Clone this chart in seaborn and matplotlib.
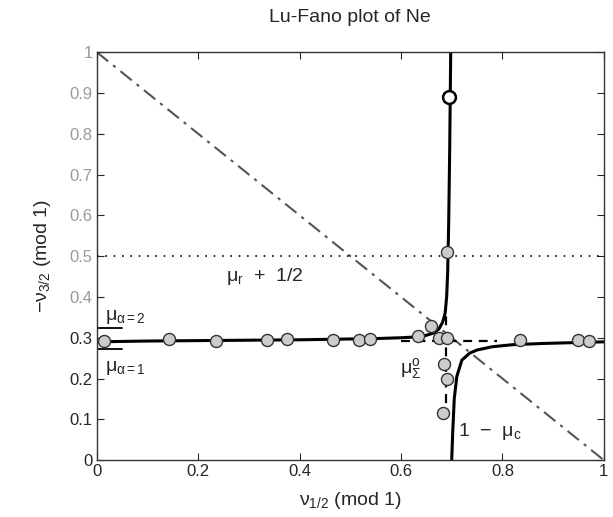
import matplotlib
matplotlib.use("Agg")
import matplotlib.pyplot as plt
import numpy as np
import pandas as pd
import seaborn as sns

# Lu-Fano curve, two branches
left_x = [0.0, 0.1, 0.2, 0.3, 0.4, 0.5, 0.55, 0.6, 0.63, 0.65, 0.665, 0.675,
          0.682, 0.687, 0.69, 0.692, 0.694, 0.696, 0.697, 0.698]
left_y = [0.290, 0.292, 0.293, 0.294, 0.295, 0.297, 0.298, 0.300, 0.302, 0.306,
          0.312, 0.322, 0.338, 0.36, 0.40, 0.46, 0.58, 0.76, 0.88, 1.0]
right_x = [0.700, 0.702, 0.705, 0.71, 0.72, 0.735, 0.75, 0.78, 0.82, 0.88, 0.94, 1.0]
right_y = [0.0, 0.07, 0.15, 0.205, 0.245, 0.262, 0.270, 0.278, 0.283, 0.286, 0.288, 0.290]

# dashed crossing lines near the avoided crossing
dash_h_x = [0.60, 0.79]
dash_h_y = [0.292, 0.292]
dash_v_x = [0.688, 0.688]
dash_v_y = [0.14, 0.37]

# experimental levels (grey circles)
exp_x = [0.015, 0.142, 0.235, 0.335, 0.375, 0.466, 0.517, 0.538, 0.633, 0.66,
         0.675, 0.69, 0.69, 0.685, 0.69, 0.683, 0.835, 0.95, 0.97]
exp_y = [0.293, 0.296, 0.292, 0.295, 0.297, 0.295, 0.295, 0.298, 0.305, 0.33,
         0.30, 0.30, 0.51, 0.235, 0.20, 0.115, 0.295, 0.295, 0.292]

# open circle
open_x = [0.695]
open_y = [0.89]

# diagonal and half line
diag_x = [0.0, 1.0]
diag_y = [1.0, 0.0]
half_x = [0.0, 1.0]
half_y = [0.5, 0.5]

xticks = [0, 0.2, 0.4, 0.6, 0.8, 1]
xticklabels = ["0", "0.2", "0.4", "0.6", "0.8", "1"]
yticks = [0, 0.1, 0.2, 0.3, 0.4, 0.5, 0.6, 0.7, 0.8, 0.9, 1]
yticklabels = ["0", "0.1", "0.2", "0.3", "0.4", "0.5", "0.6", "0.7", "0.8", "0.9", "1"]

sns.set_style("ticks")
plt.rcParams['font.family'] = ['Liberation Sans', 'DejaVu Sans']
plt.rcParams['mathtext.fontset'] = 'custom'
plt.rcParams['mathtext.rm'] = 'Liberation Sans'
plt.rcParams['mathtext.it'] = 'Liberation Sans'
plt.rcParams['mathtext.bf'] = 'Liberation Sans:bold'

fig = plt.figure(figsize=(6.13, 5.17), dpi=100)
ax = fig.add_axes([0.158, 0.110, 0.827, 0.789])

sns.lineplot(x=diag_x, y=diag_y, ax=ax, color="#555555", lw=1.5, sort=False, estimator=None)
ax.lines[-1].set_linestyle((0, (7, 3, 1.5, 3)))
sns.lineplot(x=half_x, y=half_y, ax=ax, color="black", lw=1.2, sort=False, estimator=None)
ax.lines[-1].set_linestyle((0, (1, 4)))

sns.lineplot(x=left_x, y=left_y, ax=ax, color="black", lw=2.2, sort=False, estimator=None)
sns.lineplot(x=right_x, y=right_y, ax=ax, color="black", lw=2.2, sort=False, estimator=None)

sns.lineplot(x=dash_h_x, y=dash_h_y, ax=ax, color="black", lw=1.6, sort=False, estimator=None)
ax.lines[-1].set_linestyle((0, (4, 3)))
sns.lineplot(x=dash_v_x, y=dash_v_y, ax=ax, color="black", lw=1.6, sort=False, estimator=None)
ax.lines[-1].set_linestyle((0, (4, 3)))

sns.scatterplot(x=exp_x, y=exp_y, ax=ax, s=75, color="#cccccc",
                edgecolor="#333333", linewidth=1.0, zorder=5)
sns.scatterplot(x=open_x, y=open_y, ax=ax, s=85, color="white",
                edgecolor="black", linewidth=1.8, zorder=5)

# short level markers at the left edge
ax.plot([0.002, 0.05], [0.324, 0.324], color="black", lw=1.3)
ax.plot([0.002, 0.05], [0.272, 0.272], color="black", lw=1.3)

ax.text(0.016, 0.35, "μ$_{\\alpha=2}$", fontsize=14, va="center", ha="left")
ax.text(0.016, 0.225, "μ$_{\\alpha=1}$", fontsize=14, va="center", ha="left")
ax.text(0.255, 0.45, "μ$_{r}$  +  1/2", fontsize=14, va="center", ha="left")
ax.text(0.598, 0.225, "μ$_{\\Sigma}^{o}$", fontsize=14, va="center", ha="left")
ax.text(0.712, 0.07, "1  −  μ$_{c}$", fontsize=14, va="center", ha="left")

ax.set_xlim(0, 1)
ax.set_ylim(0, 1)
ax.set_xticks(xticks)
ax.set_xticklabels(xticklabels)
ax.set_yticks(yticks)
ax.set_yticklabels(yticklabels)
ax.tick_params(direction="in", top=True, right=True, length=5, labelsize=12, pad=3)
for lab in ax.get_yticklabels()[4:]:
    lab.set_color("#9a9a9a")
for sp in ax.spines.values():
    sp.set_linewidth(1.0)
    sp.set_color("#333333")

ax.set_title("Lu-Fano plot of Ne", fontsize=14, pad=22)
ax.set_xlabel("$\\nu_{1/2}$ (mod 1)", fontsize=14, labelpad=8)
ax.set_ylabel("$-\\nu_{3/2}$ (mod 1)", fontsize=14, labelpad=12)

fig.savefig("out.png", dpi=100)
